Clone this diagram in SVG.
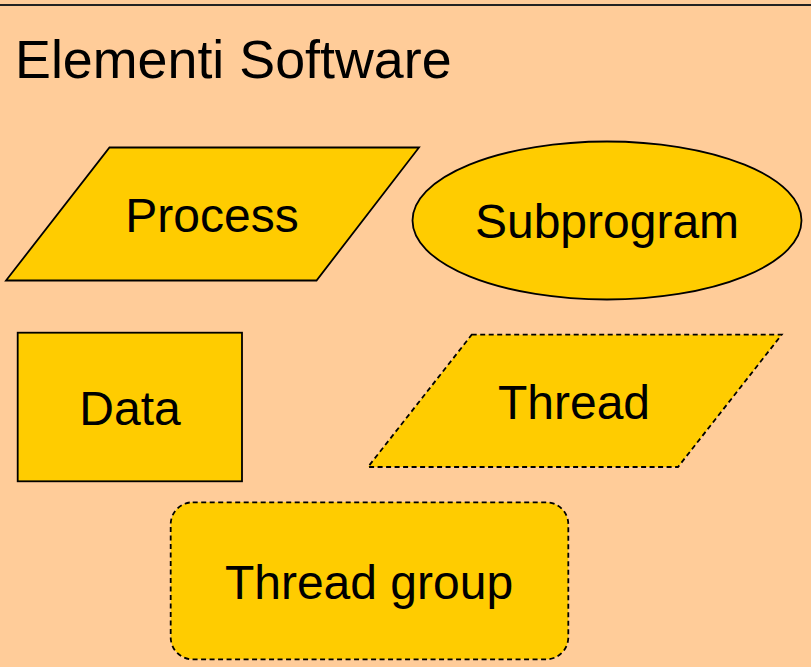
<svg xmlns="http://www.w3.org/2000/svg" width="811" height="667" viewBox="0 0 811 667">
  <style>
    .shape { fill: #FFCC00; stroke: #000; stroke-width: 1.8; }
    .dashed { stroke-dasharray: 5 3.5; }
    .label { font-family: "Liberation Sans", Arial, sans-serif; font-size: 48px; fill: #000; text-anchor: middle; }
    .title { font-family: "Liberation Sans", Arial, sans-serif; font-size: 53.8px; fill: #000; }
  </style>
  <!-- page background and top rule -->
  <rect x="0" y="0" width="811" height="667" fill="#FFCC99"/>
  <line x1="0" y1="5" x2="811" y2="5" stroke="#222" stroke-width="2"/>
  <text class="title" x="15" y="78">Elementi Software</text>

  <g id="process">
    <polygon class="shape" points="109.5,147.5 419,147.5 316.5,280.5 6,280.5"/>
    <text class="label" x="212" y="231.5">Process</text>
  </g>
  <g id="subprogram">
    <ellipse class="shape" cx="607" cy="220.5" rx="194.5" ry="79"/>
    <text class="label" x="607" y="238">Subprogram</text>
  </g>
  <g id="data">
    <rect class="shape" x="17.7" y="332.7" width="224.3" height="148.6"/>
    <text class="label" x="130" y="425">Data</text>
  </g>
  <g id="thread">
    <polygon class="shape dashed" points="471.7,334.7 781.7,334.7 678,467 368,467"/>
    <text class="label" x="574" y="419">Thread</text>
  </g>
  <g id="thread-group">
    <rect class="shape dashed" x="170.7" y="502.3" width="397.6" height="157" rx="22" ry="22"/>
    <text class="label" x="369" y="599">Thread group</text>
  </g>
  <g id="connectors"/>
</svg>
